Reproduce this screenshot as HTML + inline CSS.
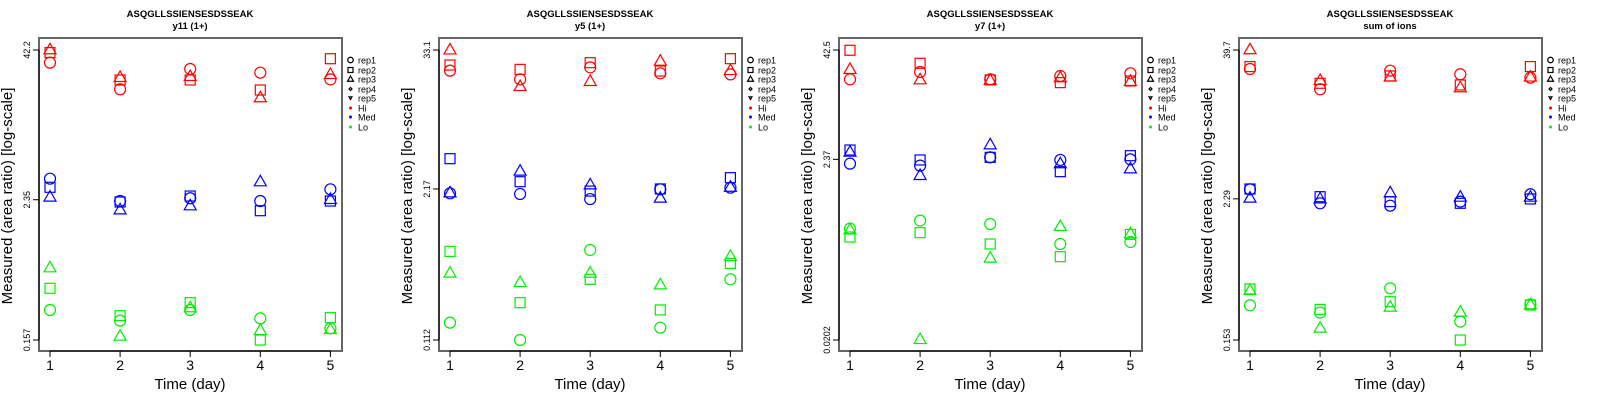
<!DOCTYPE html>
<html><head><meta charset="utf-8"><style>
html,body{margin:0;padding:0;background:#fff;}
svg{display:block;font-family:"Liberation Sans",sans-serif;}
</style></head><body>
<svg id="chart" width="1600" height="400"></svg>
<script>
// Values are log10(area ratio). Order: days 1..5
const days = [1,2,3,4,5];
const panelTitles = ["y11 (1+)","y5 (1+)","y7 (1+)","sum of ions"];
const peptide = "ASQGLLSSIENSESDSSEAK";
const tickLabels = [["0.157","2.35","42.2"],["0.112","2.17","33.1"],["0.0202","2.37","42.5"],["0.153","2.29","39.7"]];
const tickLogs = [[-0.804,0.371,1.625],[-0.951,0.336,1.520],[-1.695,0.375,1.628],[-0.815,0.360,1.599]];
// panel 1
const p1HiRep1=[1.519,1.296,1.466,1.435,1.379];
const p1HiRep2=[1.603,1.374,1.374,1.290,1.552];
const p1HiRep3=[1.631,1.399,1.407,1.229,1.424];
const p1MedRep1=[0.547,0.360,0.383,0.360,0.458];
const p1MedRep2=[0.475,0.352,0.402,0.279,0.360];
const p1MedRep3=[0.397,0.290,0.324,0.525,0.377];
const p1LoRep1=[-0.553,-0.642,-0.553,-0.623,-0.706];
const p1LoRep2=[-0.371,-0.600,-0.491,-0.804,-0.617];
const p1LoRep3=[-0.195,-0.768,-0.530,-0.720,-0.712];
// panel 2
const p2HiRep1=[1.344,1.270,1.372,1.321,1.312];
const p2HiRep2=[1.392,1.355,1.412,1.341,1.446];
const p2HiRep3=[1.525,1.213,1.256,1.429,1.349];
const p2MedRep1=[0.299,0.293,0.250,0.333,0.347];
const p2MedRep2=[0.594,0.398,0.318,0.336,0.432];
const p2MedRep3=[0.307,0.492,0.375,0.262,0.355];
const p2LoRep1=[-0.803,-0.951,-0.184,-0.846,-0.434];
const p2LoRep2=[-0.196,-0.633,-0.434,-0.695,-0.298];
const p2LoRep3=[-0.377,-0.457,-0.377,-0.477,-0.235];
// panel 3
const p3HiRep1=[1.292,1.376,1.292,1.330,1.361];
const p3HiRep2=[1.625,1.476,1.285,1.254,1.273];
const p3HiRep3=[1.411,1.292,1.285,1.315,1.273];
const p3MedRep1=[0.326,0.303,0.398,0.368,0.375];
const p3MedRep2=[0.482,0.368,0.398,0.234,0.417];
const p3MedRep3=[0.463,0.196,0.547,0.330,0.272];
const p3LoRep1=[-0.419,-0.327,-0.366,-0.595,-0.572];
const p3LoRep2=[-0.515,-0.465,-0.595,-0.740,-0.485];
const p3LoRep3=[-0.427,-1.684,-0.751,-0.389,-0.473];
// panel 4
const p4HiRep1=[1.441,1.272,1.427,1.397,1.369];
const p4HiRep2=[1.461,1.322,1.383,1.308,1.461];
const p4HiRep3=[1.605,1.350,1.378,1.289,1.378];
const p4MedRep1=[0.439,0.323,0.303,0.337,0.398];
const p4MedRep2=[0.442,0.378,0.337,0.323,0.359];
const p4MedRep3=[0.370,0.364,0.414,0.378,0.378];
const p4LoRep1=[-0.526,-0.587,-0.385,-0.662,-0.518];
const p4LoRep2=[-0.390,-0.560,-0.496,-0.815,-0.524];
const p4LoRep3=[-0.399,-0.712,-0.537,-0.579,-0.518];

const panels=[
 {Hi:[p1HiRep1,p1HiRep2,p1HiRep3],Med:[p1MedRep1,p1MedRep2,p1MedRep3],Lo:[p1LoRep1,p1LoRep2,p1LoRep3]},
 {Hi:[p2HiRep1,p2HiRep2,p2HiRep3],Med:[p2MedRep1,p2MedRep2,p2MedRep3],Lo:[p2LoRep1,p2LoRep2,p2LoRep3]},
 {Hi:[p3HiRep1,p3HiRep2,p3HiRep3],Med:[p3MedRep1,p3MedRep2,p3MedRep3],Lo:[p3LoRep1,p3LoRep2,p3LoRep3]},
 {Hi:[p4HiRep1,p4HiRep2,p4HiRep3],Med:[p4MedRep1,p4MedRep2,p4MedRep3],Lo:[p4LoRep1,p4LoRep2,p4LoRep3]}
];
const groupColors={Hi:"#ff0000",Med:"#0000ff",Lo:"#00ee00"};
const legendLabels=["rep1","rep2","rep3","rep4","rep5","Hi","Med","Lo"];

const NS="http://www.w3.org/2000/svg";
const svg=document.getElementById('chart');
function mk(tag,attrs,parent){const e=document.createElementNS(NS,tag);for(const k in attrs)e.setAttribute(k,attrs[k]);(parent||svg).appendChild(e);return e;}
function marker(g,shape,x,y,color,sz){
  let e;
  if(shape===0){e=mk('circle',{cx:x,cy:y,r:5.5*sz,fill:'none',stroke:color,'stroke-width':1.2},g);}
  else if(shape===1){const s=5*sz;e=mk('rect',{x:x-s,y:y-s,width:2*s,height:2*s,fill:'none',stroke:color,'stroke-width':1.2},g);}
  else if(shape===2){const s=6*sz;e=mk('polygon',{points:`${x},${y-s} ${x+s},${y+s*0.75} ${x-s},${y+s*0.75}`,fill:'none',stroke:color,'stroke-width':1.2},g);}
  else if(shape===3){const s=3*sz;e=mk('polygon',{points:`${x},${y-s} ${x+s},${y} ${x},${y+s} ${x-s},${y}`,fill:'none',stroke:color,'stroke-width':1.2},g);}
  else if(shape===4){const s=3*sz;e=mk('polygon',{points:`${x},${y+s} ${x+s},${y-s*0.75} ${x-s},${y-s*0.75}`,fill:'none',stroke:color,'stroke-width':1.2},g);}
  else {e=mk('circle',{cx:x,cy:y,r:1.5,fill:color},g);}
  return e;
}
panels.forEach((pd,pi)=>{
  const ox=400*pi;
  const g=mk('g',{transform:`translate(${ox},0)`});
  
  
  const lo=tickLogs[pi][0], hi=tickLogs[pi][2];
  const xS=d=>50+(d-1)*70.1;
  const yS=v=>340-(v-lo)/(hi-lo)*290;
  let t=mk('text',{x:190,y:17,'text-anchor':'middle','font-size':9.5,'font-weight':'bold'},g);t.textContent=peptide;
  
  
  t=mk('text',{x:190,y:29,'text-anchor':'middle','font-size':9.5,'font-weight':'bold'},g);t.textContent=panelTitles[pi];
  
  
  const box=mk('rect',{x:39,y:38,width:303,height:313,fill:'none',stroke:'#666','stroke-width':2},g);
  
  
  const xa=mk('g',{},g);
  
  
  mk('line',{x1:xS(1),x2:xS(5),y1:351,y2:351,stroke:'#000'},xa);
  days.forEach(d=>{
    mk('line',{x1:xS(d),x2:xS(d),y1:351,y2:357,stroke:'#000'},xa);
    const l=mk('text',{x:xS(d),y:370,'text-anchor':'middle','font-size':14},xa);l.textContent=d;
    
    
  });
  const xt=mk('text',{x:190,y:389,'text-anchor':'middle','font-size':15},g);xt.textContent="Time (day)";
  
  
  const ya=mk('g',{},g);
  
  
  mk('line',{x1:39,x2:39,y1:yS(lo),y2:yS(hi),stroke:'#000'},ya);
  tickLogs[pi].forEach((v,i)=>{
    const y=yS(v);
    mk('line',{x1:33,x2:39,y1:y,y2:y,stroke:'#000'},ya);
    const l=mk('text',{x:0,y:0,'text-anchor':'middle','font-size':9,transform:`translate(30,${y}) rotate(-90)`},ya);
    l.textContent=tickLabels[pi][i];
    
    
  });
  const yt=mk('text',{x:0,y:0,'text-anchor':'middle','font-size':15,transform:'translate(12,196) rotate(-90)'},g);
  yt.textContent="Measured (area ratio) [log-scale]";
  
  
  ["Hi","Med","Lo"].forEach(grp=>{
    pd[grp].forEach((series,ri)=>{
      series.forEach((v,di)=>{
        const m=marker(g,ri,xS(days[di]),yS(v),groupColors[grp],1);
        
        
      });
    });
  });
  const lg=mk('g',{},g);
  
  
  const rowsY=[60,70,79,89,98,108,117,127];
  legendLabels.forEach((lab,i)=>{
    const color=i<5?'#000':groupColors[lab];
    marker(lg,i<5?i:5,350.5,rowsY[i],color,0.5);
    const tx=mk('text',{x:358,y:rowsY[i]+3.5,'font-size':9},lg);tx.textContent=lab;
    
    
  });
});
</script>
</body></html>
